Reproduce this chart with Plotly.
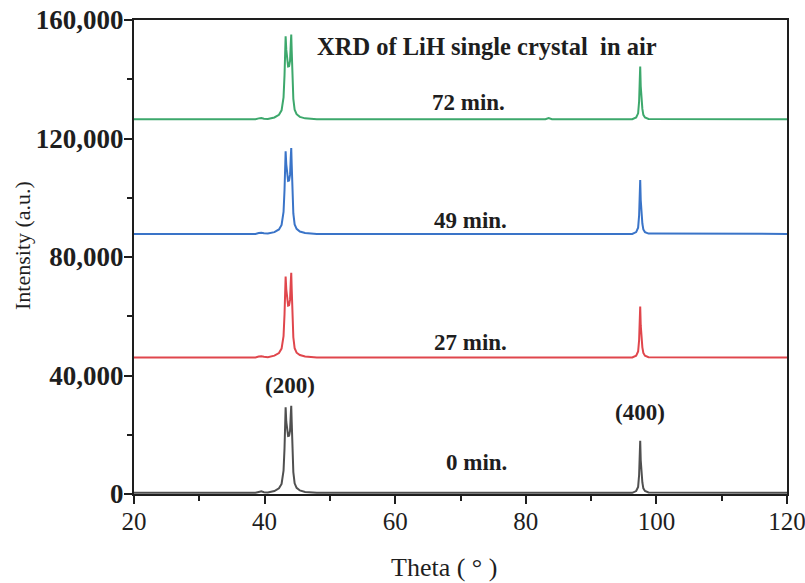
import plotly.graph_objects as go

# ---- data ----
theta = [20, 30, 38.6, 39.1, 39.5, 39.9, 40.5, 41.5, 42.2, 42.6, 42.9, 43.05, 43.15, 43.22,
         43.32, 43.45, 43.6, 43.75, 43.9, 44.0, 44.08, 44.15, 44.25, 44.4, 44.6, 44.9, 45.4,
         46.2, 48, 60, 83.0, 83.5, 84.0, 96.3, 96.9, 97.2, 97.35, 97.45, 97.52, 97.6, 97.68,
         97.76, 97.85, 98.0, 98.25, 98.8, 110, 120]

series_names = ["0 min.", "27 min.", "49 min.", "72 min."]
baselines = [400, 46100, 87800, 126500]

profile_0 = [0, 0, 0, 300, 500, 200, 100, 600, 1500, 3000, 7500, 15000, 24000, 28900,
             24000, 20500, 19200, 19300, 21000, 26000, 29400, 24000, 14000, 7000, 3200, 1700, 800,
             300, 0, 0, 0, 200, 0, 0, 600, 2000, 6000, 13000, 17600, 11000, 8100,
             6500, 3500, 1500, 600, 100, 0, 0]
profile_27 = [0, 0, 0, 300, 400, 200, 100, 600, 1500, 3000, 7200, 14500, 23000, 27300,
              23000, 19200, 17500, 17600, 19500, 25000, 28600, 23000, 13500, 6800, 3100, 1600, 800,
              300, 0, 0, 0, 200, 0, 0, 600, 2000, 5800, 12500, 17200, 10800, 8000,
              6300, 3400, 1500, 600, 100, 0, 0]
profile_49 = [0, 0, 0, 300, 400, 200, 100, 600, 1500, 3000, 7400, 14800, 23500, 27900,
              23500, 19700, 17900, 18000, 20000, 25500, 29000, 23500, 13800, 6900, 3200, 1700, 800,
              300, 0, 0, 0, 200, 0, 0, 600, 2100, 6200, 13400, 18200, 11400, 8300,
              6600, 3500, 1500, 600, 100, 0, 0]
profile_72 = [0, 0, 0, 300, 400, 200, 100, 600, 1500, 3000, 7400, 14800, 23500, 28000,
              23500, 19800, 17800, 17900, 19800, 25000, 28600, 23200, 13600, 6900, 3200, 1700, 800,
              300, 0, 0, 0, 400, 0, 0, 600, 2000, 6000, 13000, 17800, 11100, 8400,
              6600, 3500, 1500, 600, 100, 0, 0]
profiles = [profile_0, profile_27, profile_49, profile_72]
colors = ["#505050", "#E0464C", "#3A74C8", "#3DA86C"]

label_x = [72.5, 71.5, 71.5, 71.2]
label_y = [10800, 51200, 92300, 132000]

peak_labels = ["(200)", "(400)"]
peak_label_x = [43.9, 97.5]
peak_label_y = [36700, 27600]

title_text = "XRD of LiH single crystal\u00a0\u00a0in air"
x_ticks = [20, 40, 60, 80, 100, 120]
y_ticks = [0, 40000, 80000, 120000, 160000]
y_tick_text = ["0", "40,000", "80,000", "120,000", "160,000"]

SERIF = "Liberation Serif, Times New Roman, serif"
INK = "#1e1e1e"

fig = go.Figure()
for name, base, prof, col in zip(series_names, baselines, profiles, colors):
    fig.add_trace(go.Scatter(
        x=theta, y=[base + v for v in prof], mode="lines", name=name,
        line=dict(color=col, width=2), showlegend=False))

for txt, x, y in zip(series_names, label_x, label_y):
    fig.add_annotation(x=x, y=y, text=f"<b>{txt}</b>", showarrow=False,
                       font=dict(family=SERIF, size=23, color=INK))
for txt, x, y in zip(peak_labels, peak_label_x, peak_label_y):
    fig.add_annotation(x=x, y=y, text=f"<b>{txt}</b>", showarrow=False,
                       font=dict(family=SERIF, size=23, color=INK))
fig.add_annotation(x=74.0, y=151200, text=f"<b>{title_text}</b>", showarrow=False,
                   font=dict(family=SERIF, size=24.5, color=INK))

# axis titles as annotations for precise placement
fig.add_annotation(x=0.474, y=-0.156, xref="paper", yref="paper", text="Theta ( ° )",
                   showarrow=False, xanchor="center", yanchor="middle",
                   font=dict(family=SERIF, size=26, color=INK))
fig.add_annotation(x=-0.171, y=0.524, xref="paper", yref="paper", text="Intensity (a.u.)",
                   showarrow=False, xanchor="center", yanchor="middle", textangle=-90,
                   font=dict(family=SERIF, size=22, color=INK))

fig.update_layout(
    width=805, height=583,
    margin=dict(l=134, r=18, t=20, b=89),
    paper_bgcolor="white", plot_bgcolor="white",
    font=dict(family=SERIF, color=INK),
    xaxis=dict(range=[20, 120], tickvals=x_ticks, ticks="outside", ticklen=8, tickwidth=2,
               tickcolor=INK, showline=True, linewidth=2, linecolor=INK, mirror=True,
               showgrid=False, zeroline=False, automargin=False, ticklabeloverflow="allow",
               ticklabelstandoff=-4,
               tickfont=dict(family=SERIF, size=25, color=INK),
               minor=dict(dtick=10, ticks="outside", ticklen=5, tickwidth=2, tickcolor=INK)),
    yaxis=dict(range=[0, 160000], tickvals=y_ticks, ticktext=[f"<b>{t}</b>" for t in y_tick_text],
               ticks="outside", automargin=False, ticklabeloverflow="allow",
               ticklabelstandoff=-5,
               ticklen=8, tickwidth=2, tickcolor=INK, showline=True, linewidth=2,
               linecolor=INK, mirror=True, showgrid=False, zeroline=False,
               tickfont=dict(family=SERIF, size=27, color=INK),
               minor=dict(dtick=20000, ticks="outside", ticklen=5, tickwidth=2, tickcolor=INK)),
)

fig.write_html("out.html", config={"displayModeBar": False},
               post_script="document.body.style.margin='0';document.body.style.overflow='hidden';")
